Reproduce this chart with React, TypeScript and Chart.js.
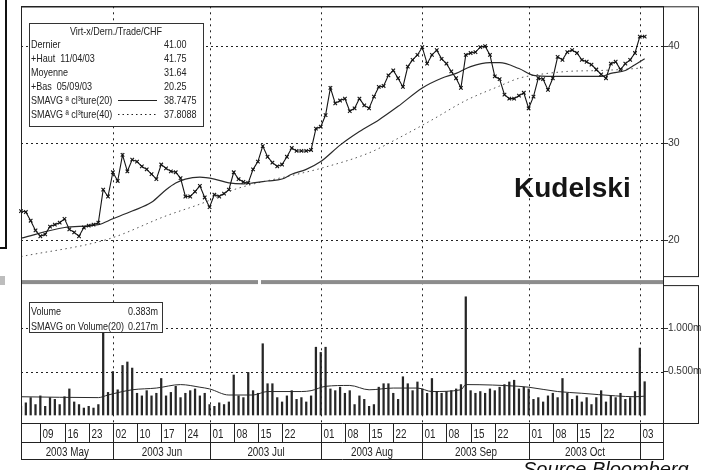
import React, { useEffect, useRef } from 'react';
import { Chart, registerables } from 'chart.js';

Chart.register(...registerables);

// ---------- categories (trading days, Swiss holidays removed) ----------
const HOLIDAYS = ['2003-05-29', '2003-06-09'];
function buildTradingDays(start: string, count: number): string[] {
  const out: string[] = [];
  const d = new Date(start + 'T00:00:00Z');
  while (out.length < count) {
    const wd = d.getUTCDay();
    const iso = d.toISOString().slice(0, 10);
    if (wd !== 0 && wd !== 6 && !HOLIDAYS.includes(iso)) out.push(iso);
    d.setUTCDate(d.getUTCDate() + 1);
  }
  return out;
}
const tradingDays = buildTradingDays('2003-05-05', 134);

// ---------- tick labels ----------
const dayTicks = [
  '2003-05-09', '2003-05-16', '2003-05-23', '2003-06-02', '2003-06-10', '2003-06-17', '2003-06-24',
  '2003-07-01', '2003-07-08', '2003-07-15', '2003-07-22', '2003-08-01', '2003-08-08', '2003-08-15',
  '2003-08-22', '2003-09-01', '2003-09-08', '2003-09-15', '2003-09-22', '2003-10-01', '2003-10-08',
  '2003-10-15', '2003-10-22', '2003-11-03',
];
const monthStarts = ['2003-06-02', '2003-07-01', '2003-08-01', '2003-09-01', '2003-10-01', '2003-11-03'];
const monthLabels = ['2003 May', '2003 Jun', '2003 Jul', '2003 Aug', '2003 Sep', '2003 Oct'];
const priceTicks = [20, 30, 40];
const volumeTicks = [0.5, 1.0];

// ---------- series ----------
const closes = [
  23.0, 22.9, 22.0, 21.0, 20.4, 20.6, 21.4, 21.6, 21.8, 22.2,
  21.1, 20.8, 20.4, 21.3, 21.5, 21.6, 21.8, 25.2, 24.5, 27.0,
  26.1, 28.8, 27.1, 28.3, 28.1, 27.6, 27.3, 26.8, 26.3, 27.8,
  27.4, 27.1, 27.0, 26.4, 24.5, 24.5, 25.0, 25.6, 24.4, 23.4,
  24.7, 24.5, 24.8, 25.2, 27.0, 26.3, 26.0, 25.9, 27.3, 28.1,
  29.7, 28.6, 28.0, 27.6, 27.8, 28.6, 29.5, 29.2, 29.2, 29.2,
  29.3, 31.5, 31.7, 32.9, 35.7, 34.1, 34.4, 34.6, 33.3, 33.6,
  34.6, 33.9, 33.6, 34.8, 35.8, 35.9, 37.0, 37.5, 36.7, 35.8,
  37.9, 38.6, 39.1, 39.9, 38.2, 39.1, 39.6, 38.7, 38.2, 37.4,
  36.7, 35.7, 39.1, 39.3, 39.4, 39.9, 40.0, 39.1, 36.9, 36.6,
  35.0, 34.6, 34.6, 34.9, 35.2, 33.6, 34.8, 36.7, 36.6, 35.5,
  36.7, 38.9, 38.6, 39.4, 39.6, 39.3, 38.6, 38.4, 38.1, 37.6,
  37.1, 36.7, 38.2, 38.4, 37.6, 38.2, 38.6, 39.3, 41.0, 41.0,
];

const volumes = [
  0.10, 0.14, 0.20, 0.12, 0.22, 0.10, 0.20, 0.18, 0.12, 0.21,
  0.30, 0.15, 0.12, 0.08, 0.10, 0.08, 0.12, 0.94, 0.26, 0.50,
  0.29, 0.57, 0.61, 0.54, 0.25, 0.22, 0.28, 0.22, 0.25, 0.42,
  0.22, 0.26, 0.33, 0.20, 0.25, 0.28, 0.30, 0.22, 0.25, 0.12,
  0.10, 0.14, 0.12, 0.15, 0.46, 0.22, 0.20, 0.49, 0.28, 0.25,
  0.82, 0.36, 0.36, 0.20, 0.15, 0.22, 0.28, 0.18, 0.20, 0.15,
  0.22, 0.78, 0.72, 0.78, 0.30, 0.28, 0.32, 0.25, 0.28, 0.12,
  0.22, 0.18, 0.10, 0.12, 0.32, 0.36, 0.36, 0.25, 0.18, 0.44,
  0.36, 0.28, 0.38, 0.30, 0.25, 0.42, 0.27, 0.25, 0.27, 0.28,
  0.30, 0.35, 1.36, 0.28, 0.25, 0.27, 0.25, 0.30, 0.28, 0.32,
  0.35, 0.38, 0.40, 0.30, 0.32, 0.30, 0.18, 0.20, 0.15, 0.22,
  0.25, 0.20, 0.42, 0.25, 0.18, 0.22, 0.15, 0.20, 0.12, 0.20,
  0.28, 0.15, 0.22, 0.20, 0.25, 0.18, 0.20, 0.27, 0.77, 0.383,
];

// moving averages at sample days (day index, value)
const sma20Days = [0, 9, 16, 19, 23, 27, 30, 32, 34, 37, 40, 43, 46, 48, 51, 54, 56, 59, 62, 66, 70, 74, 78, 83, 87, 90, 93, 97, 99, 103, 106, 110, 120, 122, 125, 127, 129];
const sma20Vals = [20.2, 21.3, 21.6, 22.2, 23.0, 23.9, 25.2, 25.9, 26.3, 26.5, 26.3, 25.9, 25.8, 25.9, 26.1, 26.3, 26.8, 27.3, 28.1, 29.8, 31.2, 32.4, 33.8, 35.7, 36.7, 37.2, 37.9, 38.3, 38.3, 37.7, 37.0, 36.9, 36.9, 37.2, 37.5, 38.1, 38.7];
const sma40Days = [0, 18, 30, 38, 44, 58, 62, 72, 78, 85, 92, 99, 103, 106, 113, 120, 127, 129];
const sma40Vals = [18.3, 20.1, 22.5, 23.9, 25.2, 26.9, 27.4, 29.0, 30.5, 32.4, 34.4, 35.9, 36.7, 37.0, 37.4, 37.5, 37.7, 37.8];
const volSmaDays = [0, 16, 18, 23, 28, 33, 37, 39, 43, 48, 51, 58, 60, 63, 68, 72, 77, 82, 85, 91, 92, 103, 105, 111, 116, 123, 127, 129];
const volSmaVals = [0.21, 0.20, 0.23, 0.29, 0.31, 0.35, 0.32, 0.30, 0.23, 0.23, 0.27, 0.27, 0.28, 0.33, 0.34, 0.29, 0.31, 0.31, 0.27, 0.29, 0.35, 0.33, 0.32, 0.27, 0.25, 0.22, 0.21, 0.217];

// ---------- legend texts ----------
const priceTitle = 'Virt-x/Dern./Trade/CHF';
const priceLegendRows = [
  ['Dernier', '41.00'],
  ['+Haut  11/04/03', '41.75'],
  ['Moyenne', '31.64'],
  ['+Bas  05/09/03', '20.25'],
  ['SMAVG ª cl³ture(20)', '38.7475'],
  ['SMAVG ª cl³ture(40)', '37.8088'],
];
const volumeLegendRows = [
  ['Volume', '0.383m'],
  ['SMAVG on Volume(20)', '0.217m'],
];
const stockName = 'Kudelski';
const sourceText = 'Source Bloomberg';

const SANS = "'Liberation Sans',Arial,sans-serif";

const toPoints = (days: number[], vals: number[]) => days.map((d, k) => ({ x: tradingDays[d], y: vals[k] }));

function line(ctx: CanvasRenderingContext2D, x1: number, y1: number, x2: number, y2: number) {
  ctx.beginPath();
  ctx.moveTo(x1, y1);
  ctx.lineTo(x2, y2);
  ctx.stroke();
}

// condensed (Arial-Narrow-like) text: Liberation Sans squeezed horizontally
function narrowText(ctx: CanvasRenderingContext2D, text: string, x: number, y: number, align: CanvasTextAlign, size = 11) {
  ctx.save();
  ctx.translate(x, y);
  ctx.scale(0.82, 1);
  ctx.font = `${size}px ${SANS}`;
  ctx.textAlign = align;
  ctx.fillText(text, 0, 0);
  ctx.restore();
}

const overlayPlugin = {
  id: 'overlay',
  beforeDatasetsDraw(chart: any) {
    const { ctx, chartArea: ca, scales } = chart;
    const x = scales.x, yP = scales.yP, yV = scales.yV;
    ctx.save();
    ctx.strokeStyle = '#222';
    ctx.lineWidth = 1;
    ctx.setLineDash([2, 3]);
    for (const v of priceTicks) {
      const y = Math.round(yP.getPixelForValue(v)) + 0.5;
      line(ctx, ca.left, y, ca.right, y);
    }
    for (const v of volumeTicks) {
      const y = Math.round(yV.getPixelForValue(v)) + 0.5;
      line(ctx, ca.left, y, ca.right, y);
    }
    ctx.setLineDash([2, 4]);
    for (const d of monthStarts) {
      const px = Math.round(x.getPixelForValue(tradingDays.indexOf(d))) + 0.5;
      line(ctx, px, ca.top, px, ca.bottom);
    }
    ctx.restore();
  },
  afterDatasetsDraw(chart: any) {
    const { ctx, chartArea: ca, scales } = chart;
    const yP = scales.yP;
    ctx.save();
    // separator between panels
    const sep = yP.bottom;
    ctx.fillStyle = '#8c8c8c';
    ctx.fillRect(ca.left, sep - 2, ca.right - ca.left, 4);
    ctx.fillStyle = '#fff';
    ctx.fillRect(258, sep - 3, 3, 6);

    // price legend box
    ctx.fillStyle = '#fff';
    ctx.fillRect(29, 23, 174, 103);
    ctx.strokeStyle = '#333';
    ctx.lineWidth = 1;
    ctx.strokeRect(29.5, 23.5, 174, 103);
    ctx.fillStyle = '#222';
    ctx.textBaseline = 'middle';
    narrowText(ctx, priceTitle, 116, 32, 'center');
    priceLegendRows.forEach((r, k) => {
      const y = 45 + k * 14;
      narrowText(ctx, r[0], 31, y, 'left');
      narrowText(ctx, r[1], 164, y, 'left');
    });
    ctx.strokeStyle = '#222';
    line(ctx, 118, 100.5, 157, 100.5);
    ctx.setLineDash([1.5, 3]);
    line(ctx, 118, 114.5, 157, 114.5);
    ctx.setLineDash([]);

    // volume legend box
    ctx.fillStyle = '#fff';
    ctx.fillRect(29, 302, 133, 30);
    ctx.strokeStyle = '#333';
    ctx.strokeRect(29.5, 302.5, 133, 30);
    ctx.fillStyle = '#222';
    volumeLegendRows.forEach((r, k) => {
      const y = 312 + k * 15;
      narrowText(ctx, r[0], 31, y, 'left');
      narrowText(ctx, r[1], 128, y, 'left');
    });

    // stock name
    ctx.font = `bold 28px ${SANS}`;
    ctx.textAlign = 'left';
    ctx.textBaseline = 'alphabetic';
    ctx.fillStyle = '#151515';
    ctx.fillText(stockName, 514, 197);
    ctx.restore();
  },
  afterDraw(chart: any) {
    const { ctx, chartArea: ca, scales } = chart;
    const x = scales.x, yP = scales.yP, yV = scales.yV;
    const px = (d: string) => Math.round(x.getPixelForValue(tradingDays.indexOf(d))) + 0.5;
    ctx.save();
    ctx.strokeStyle = '#222';
    ctx.lineWidth = 1;
    ctx.setLineDash([]);
    const top = ca.bottom;
    const mid = top + 19;
    const bot = top + 36;
    // chart frame
    line(ctx, ca.left + 0.5, ca.top, ca.left + 0.5, bot);
    line(ctx, ca.right - 0.5, ca.top, ca.right - 0.5, bot);
    ctx.lineWidth = 1.5;
    line(ctx, ca.left, ca.top + 0.5, ca.right, ca.top + 0.5);
    ctx.lineWidth = 1;
    // right axis boxes
    ctx.strokeRect(ca.right - 0.5, yP.top + 0.5, 35, yP.bottom - yP.top - 6);
    ctx.strokeRect(ca.right - 0.5, yV.top + 3.5, 35, yV.bottom - yV.top - 3);
    // date axis
    line(ctx, ca.left, top + 0.5, ca.right, top + 0.5);
    line(ctx, ca.left, mid + 0.5, ca.right, mid + 0.5);
    line(ctx, ca.left, bot + 0.5, ca.right, bot + 0.5);
    ctx.fillStyle = '#222';
    ctx.textBaseline = 'alphabetic';
    for (const d of dayTicks) {
      const p = px(d);
      line(ctx, p, top, p, monthStarts.includes(d) ? bot : mid);
      narrowText(ctx, d.slice(8), p + 2, top + 15, 'left', 12);
    }
    const bounds = [ca.left, ...monthStarts.map(px)];
    monthLabels.forEach((lab, k) => {
      narrowText(ctx, lab, (bounds[k] + bounds[k + 1]) / 2, bot - 3, 'center', 12);
    });
    // page border on the left
    ctx.fillStyle = '#111';
    ctx.fillRect(5, 0, 2, 248);
    ctx.fillRect(0, 247, 7, 2);
    ctx.fillStyle = '#bdbdbd';
    ctx.fillRect(0, 276, 5, 9);
    // source
    ctx.fillStyle = '#111';
    ctx.font = `italic 20px ${SANS}`;
    ctx.textAlign = 'left';
    ctx.fillText(sourceText, 523, 476);
    ctx.restore();
  },
};

export default function App() {
  const ref = useRef<HTMLCanvasElement | null>(null);
  useEffect(() => {
    if (!ref.current) return;
    const chart = new Chart(ref.current, {
      type: 'line',
      data: {
        labels: tradingDays,
        datasets: [
          {
            type: 'line',
            label: 'Dernier',
            data: closes,
            yAxisID: 'yP',
            borderColor: '#141414',
            borderWidth: 1.1,
            pointStyle: 'crossRot',
            pointRadius: 2.5,
            pointBorderWidth: 1.1,
            pointBorderColor: '#141414',
            tension: 0,
          },
          {
            type: 'line',
            label: 'SMAVG(20)',
            data: toPoints(sma20Days, sma20Vals),
            yAxisID: 'yP',
            borderColor: '#2a2a2a',
            borderWidth: 1.2,
            pointRadius: 0,
            cubicInterpolationMode: 'monotone',
          },
          {
            type: 'line',
            label: 'SMAVG(40)',
            data: toPoints(sma40Days, sma40Vals),
            yAxisID: 'yP',
            borderColor: '#555',
            borderWidth: 1,
            borderDash: [1.5, 3.5],
            pointRadius: 0,
            cubicInterpolationMode: 'monotone',
          },
          {
            type: 'bar',
            label: 'Volume',
            data: volumes,
            yAxisID: 'yV',
            backgroundColor: '#262626',
            barThickness: 1.6,
          },
          {
            type: 'line',
            label: 'SMAVG on Volume(20)',
            data: toPoints(volSmaDays, volSmaVals),
            yAxisID: 'yV',
            borderColor: '#2a2a2a',
            borderWidth: 1,
            pointRadius: 0,
            cubicInterpolationMode: 'monotone',
          },
        ] as any,
      },
      options: {
        animation: false,
        responsive: false,
        maintainAspectRatio: false,
        layout: { padding: { left: 21, top: 6, right: 0, bottom: 47 } },
        plugins: { legend: { display: false }, tooltip: { enabled: false } },
        scales: {
          x: { type: 'category', offset: false, display: false },
          yP: {
            type: 'linear',
            position: 'right',
            stack: 'panels',
            stackWeight: 276,
            min: 15.67,
            max: 44.12,
            afterBuildTicks: (s: any) => { s.ticks = priceTicks.map((v) => ({ value: v })); },
            afterFit: (s: any) => { s.width = 38; },
            grid: { drawOnChartArea: false, tickLength: 4, tickColor: '#333' },
            border: { display: false },
            ticks: { padding: 0, color: '#333', font: { family: SANS, size: 10.5 }, callback: (v: any) => String(v) },
          },
          yV: {
            type: 'linear',
            position: 'right',
            stack: 'panels',
            stackWeight: 141,
            min: -0.092,
            max: 1.529,
            afterBuildTicks: (s: any) => { s.ticks = volumeTicks.map((v) => ({ value: v })); },
            afterFit: (s: any) => { s.width = 38; },
            grid: { drawOnChartArea: false, tickLength: 4, tickColor: '#333' },
            border: { display: false },
            ticks: { padding: 0, color: '#333', font: { family: SANS, size: 10 }, callback: (v: any) => Number(v).toFixed(3) + 'm' },
          },
        },
      } as any,
      plugins: [overlayPlugin],
    });
    return () => chart.destroy();
  }, []);
  return (
    <div style={{ position: 'absolute', left: 0, top: 0, width: 702, height: 470, background: '#fff', overflow: 'hidden' }}>
      <canvas ref={ref} width={702} height={470} style={{ display: 'block' }} />
    </div>
  );
}
